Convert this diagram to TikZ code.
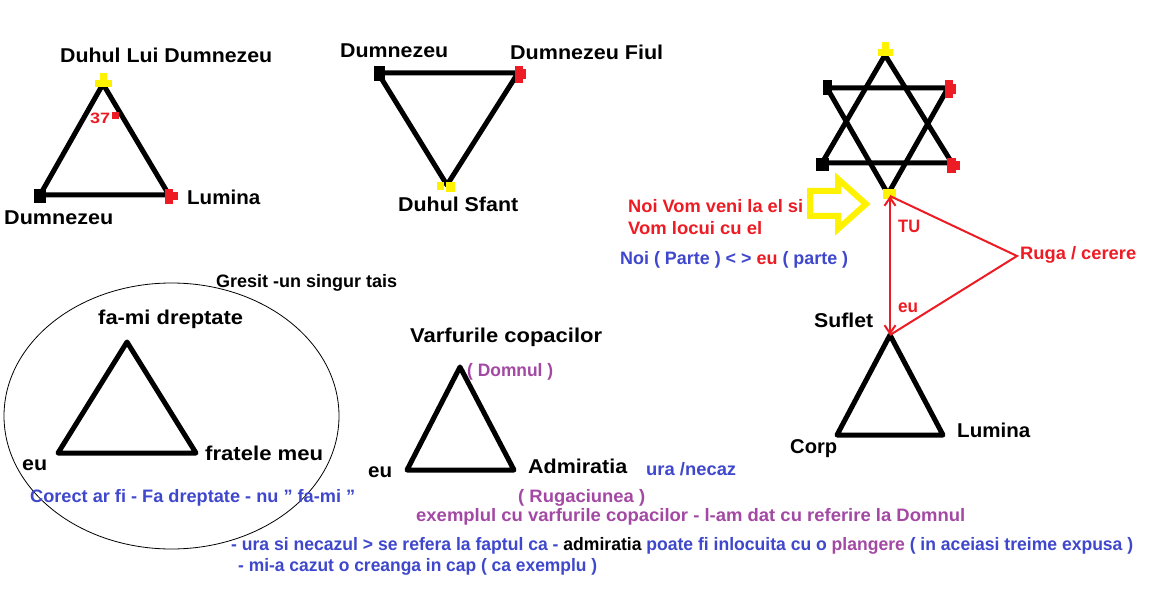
\documentclass[tikz,border=0pt]{standalone}
\usepackage{fontspec}
\setmainfont{Liberation Sans}
\usetikzlibrary{arrows.meta,shapes.geometric}
\definecolor{pred}{RGB}{237,28,36}
\definecolor{pyel}{RGB}{255,242,0}
\definecolor{pblue}{RGB}{63,72,204}
\definecolor{ppurp}{RGB}{163,73,164}
\newcommand{\fitw}[2]{\resizebox{#1pt}{\height}{#2}}
\newcommand{\sq}{\symbol{34}}
\begin{document}
\begin{tikzpicture}[x=1pt,y=-1pt,
  tri/.style={line width=5pt,line join=round},
  lab/.style={inner sep=0pt,anchor=base west},
  big/.style={lab,font=\fontsize{20}{24}\selectfont\bfseries},
  small/.style={lab,font=\fontsize{18}{21}\selectfont\bfseries},
  tiny/.style={lab,font=\fontsize{15}{17}\selectfont\bfseries},
  redline/.style={pred,line width=2pt},
  bothredarrow/.style={redline,{Straight Barb[length=8pt,width=11pt]}-{Straight Barb[length=8pt,width=11pt]}},
  yelarrow/.style={pyel,line width=6pt,line join=miter}
]
\useasboundingbox (0,0) rectangle (1159,601);
\fill[white] (0,0) rectangle (1159,601);

% ---------- Triangle 1 (top-left) ----------
\coordinate (t1a) at (103,84);
\coordinate (t1l) at (40,195);
\coordinate (t1r) at (169,195);
\draw[tri] (t1a) -- (t1l) -- (t1r) -- cycle;
\fill[pyel] (95,80) rectangle (112,87);
\fill[pyel] (100,73) rectangle (107,80);
\fill[black] (34,189) rectangle (46,203);
\fill[pred] (165,189) rectangle (173,204);
\fill[pred] (173,192) rectangle (178,200);
\fill[pred] (112,112) rectangle (119,119);
\node[big] (l1a) at (60,63) {\fitw{212}{Duhul Lui Dumnezeu}};
\node[big] (l1l) at (4,225) {\fitw{109}{Dumnezeu}};
\node[big] (l1r) at (187,205) {\fitw{73}{Lumina}};
\node[tiny,text=pred] (l137) at (90,124) {\fitw{20}{37}};

% ---------- Triangle 2 (inverted) ----------
\coordinate (t2l) at (378,73);
\coordinate (t2r) at (518,73);
\coordinate (t2b) at (447,185);
\draw[tri] (t2l) -- (t2r) -- (t2b) -- cycle;
\fill[black] (374,66) rectangle (385,81);
\fill[pred] (515,66) rectangle (523,83);
\fill[pred] (523,69) rectangle (526,79);
\fill[pyel] (437,182) rectangle (444,190);
\fill[pyel] (446,182) rectangle (455,192);
\node[big] (l2l) at (340,58) {\fitw{108}{Dumnezeu}};
\node[big] (l2r) at (510,60) {\fitw{153}{Dumnezeu Fiul}};
\node[big] (l2b) at (398,212) {\fitw{120}{Duhul Sfant}};

% ---------- Star ----------
\coordinate (su) at (885,55);
\coordinate (sul) at (822,163);
\coordinate (sur) at (952,163);
\coordinate (sdl) at (827,88);
\coordinate (sdr) at (948,88);
\coordinate (sd) at (888,194);
\draw[tri] (su) -- (sul) -- (sur) -- cycle;
\draw[tri] (sdl) -- (sdr) -- (sd) -- cycle;
\fill[pyel] (878,49) rectangle (893,56);
\fill[pyel] (882,42) rectangle (889,49);
\fill[black] (823,80) rectangle (832,95);
\fill[pred] (945,80) rectangle (953,98);
\fill[pred] (953,84) rectangle (956,94);
\fill[black] (816,158) rectangle (829,171);
\fill[pred] (947,158) rectangle (956,173);
\fill[pred] (956,161) rectangle (960,170);
\fill[pyel] (883,189) rectangle (896,199);

% yellow arrow
\draw[yelarrow] (810,191) -- (838,191) -- (838,179) -- (866,204) -- (838,229) -- (838,216) -- (810,216) -- cycle;

% ---------- Suflet triangle ----------
\coordinate (t3a) at (890,335);
\coordinate (t3l) at (837,435);
\coordinate (t3r) at (943,435);
\draw[tri] (t3a) -- (t3l) -- (t3r) -- cycle;

\coordinate (tutop) at (890,196);
\coordinate (ruga) at (1017,256);
\draw[bothredarrow] (tutop) -- (t3a);
\draw[redline] (tutop) -- (ruga) -- (t3a);

\node[small,text=pred] (ltu) at (898,233) {\fitw{22}{TU}};
\node[small,text=pred] (leu) at (898,313) {\fitw{20}{eu}};
\node[small,text=pred] (lruga) at (1020,260) {\fitw{116}{Ruga / cerere}};
\node[big] (lsuf) at (814,328) {\fitw{59}{Suflet}};
\node[big] (lcorp) at (790,453) {\fitw{47}{Corp}};
\node[big] (llum) at (957,437) {\fitw{73}{Lumina}};

\node[small,text=pred] (lnoi1) at (628,213) {\fitw{175}{Noi Vom veni la el si}};
\node[small,text=pred] (lnoi2) at (628,235) {\fitw{134}{Vom locui cu el}};
\node[small,text=pblue] (lnoi3) at (620,265) {\fitw{228}{Noi ( Parte ) < > \textcolor{pred}{eu} ( parte )}};

% ---------- Bottom-left ----------
\node[draw,ellipse,line width=0.8pt,minimum width=335pt,minimum height=266pt,inner sep=0pt] (ell) at (171.5,416) {};
\coordinate (t4a) at (127,342);
\coordinate (t4l) at (58,453);
\coordinate (t4r) at (196,453);
\draw[tri] (t4a) -- (t4l) -- (t4r) -- cycle;
\node[small] (lgres) at (216,288) {\fitw{181}{Gresit -un singur tais}};
\node[big] (lfami) at (98,325) {\fitw{145}{fa-mi dreptate}};
\node[big] (leu4) at (22,470) {\fitw{25}{eu}};
\node[big] (lfrat) at (205,460) {\fitw{118}{fratele meu}};
\node[small,text=pblue] (lcor) at (30,502) {\fitw{325}{Corect ar fi - Fa dreptate - nu \sq{} fa-mi \sq}};

% ---------- Triangle 5 ----------
\coordinate (t5a) at (460,367);
\coordinate (t5l) at (407,470);
\coordinate (t5r) at (514,470);
\draw[tri] (t5a) -- (t5l) -- (t5r) -- cycle;
\node[big] (lvarf) at (410,343) {\fitw{192}{Varfurile copacilor}};
\node[small,text=ppurp] (ldom) at (467,377) {\fitw{86}{( Domnul )}};
\node[big] (leu5) at (368,477) {\fitw{24}{eu}};
\node[big] (ladm) at (528,473) {\fitw{99}{Admiratia}};
\node[small,text=pblue] (lura) at (646,475) {\fitw{90}{ura /necaz}};
\node[small,text=ppurp] (lrug) at (518,502) {\fitw{127}{( Rugaciunea )}};
\node[small,text=ppurp] (lex) at (416,521) {\fitw{549}{exemplul cu varfurile copacilor - l-am dat cu referire la Domnul}};
\node[small,text=pblue] (lb1) at (231,550) {\fitw{902}{- ura si necazul > se refera la faptul ca - \textcolor{black}{admiratia} poate fi inlocuita cu o \textcolor{ppurp}{plangere} ( in aceiasi treime expusa )}};
\node[small,text=pblue] (lb2) at (238,571) {\fitw{359}{- mi-a cazut o creanga in cap ( ca exemplu )}};
\end{tikzpicture}
\end{document}
